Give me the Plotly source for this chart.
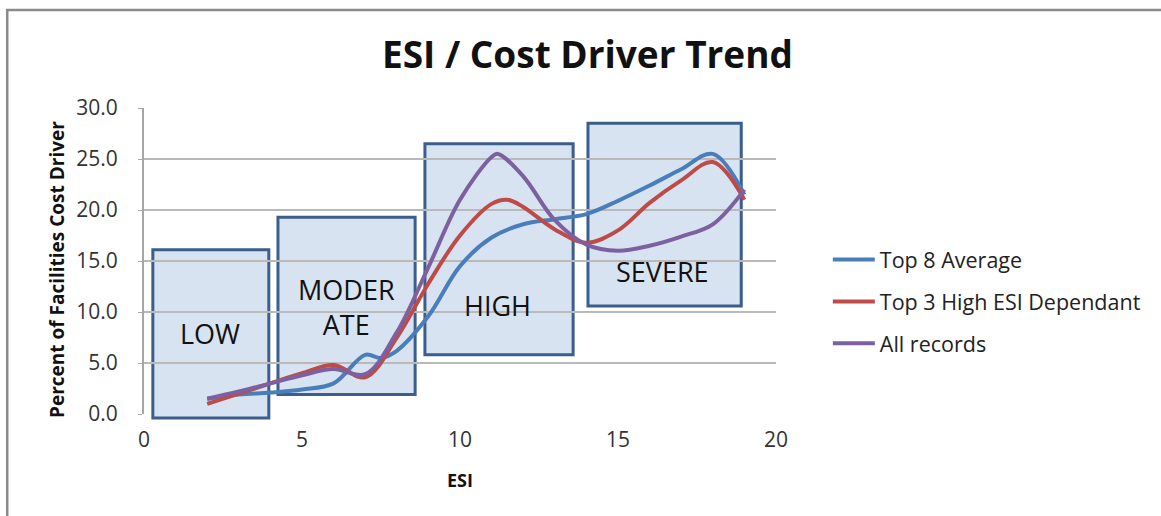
import plotly.graph_objects as go

# ESI values sampled along each smoothed curve
esi_blue = [2, 3, 4, 5, 6, 7, 7.5, 8, 9, 10, 11, 12, 13, 14, 15, 16, 17, 18, 19]
top8_avg = [1.5, 1.9, 2.1, 2.4, 3.0, 5.8, 5.5, 6.2, 9.6, 14.5, 17.3, 18.6, 19.1, 19.6, 20.9, 22.4, 24.0, 25.5, 21.5]

esi_red = [2, 3, 4, 5, 6, 7, 8, 9, 10, 11, 11.5, 12, 13, 14, 15, 16, 17, 18, 19]
top3_high = [1.0, 2.0, 3.0, 4.0, 4.8, 3.6, 7.5, 12.8, 17.5, 20.6, 21.0, 20.3, 18.1, 16.8, 18.0, 20.7, 22.9, 24.7, 21.0]

esi_purple = [2, 3, 4, 5, 6, 7, 8, 9, 10, 11, 11.2, 12, 13, 14, 15, 16, 17, 18, 19]
all_records = [1.5, 2.2, 3.0, 3.8, 4.4, 3.9, 8.0, 14.4, 21.0, 25.2, 25.5, 23.3, 19.0, 16.6, 16.0, 16.5, 17.4, 18.6, 22.0]

series_names = ["Top 8 Average", "Top 3 High ESI Dependant", "All records"]
colors = ["#4a7ebb", "#be4b48", "#7d60a0"]

Y_MAX = 30

fig = go.Figure()
for name, xs, ys, c in zip(series_names,
                           [esi_blue, esi_red, esi_purple],
                           [top8_avg, top3_high, all_records], colors):
    fig.add_trace(go.Scatter(x=xs, y=ys, name=name, mode="lines",
                             line=dict(color=c, width=4, shape="spline", smoothing=1.0),
                             legendgroup=name))

# severity boxes: (label, x0, x1, y0, y1, label x, label y)
regions = [
    ("LOW", 0.28, 3.95, -0.4, 16.1, 2.1, 7.9),
    ("MODER<br>ATE", 4.24, 8.58, 1.9, 19.3, 6.4, 10.5),
    ("HIGH", 8.89, 13.58, 5.8, 26.5, 11.2, 10.6),
    ("SEVERE", 14.05, 18.9, 10.6, 28.5, 16.4, 14.0),
]
for label, x0, x1, y0, y1, tx, ty in regions:
    # y in paper units so the LOW box can poke below the 0 line
    fig.add_shape(type="rect", x0=x0, x1=x1, y0=y0 / Y_MAX, y1=y1 / Y_MAX,
                  xref="x", yref="paper",
                  fillcolor="rgba(79,129,189,0.22)",
                  line=dict(color="#3b5e8c", width=3), layer="between")
    fig.add_annotation(x=tx, y=ty, text=label, showarrow=False,
                       font=dict(size=27, color="#111111", family="Open Sans"))

# outer chart frame (top and left edges visible)
fig.add_shape(type="rect", xref="paper", yref="paper",
              x0=-0.2164, x1=1.65, y0=-0.4, y1=1.32,
              line=dict(color="#8a8a8a", width=2.5), fillcolor="rgba(0,0,0,0)", layer="below")

# y axis title placed by hand (sits a little below plot centre in the original)
fig.add_annotation(xref="paper", yref="paper", x=(57 - 144) / 632, y=(414 - 269) / 306,
                   text="<b>Percent of Facilities Cost Driver</b>", textangle=-90,
                   showarrow=False, xanchor="center", yanchor="middle",
                   font=dict(size=19, color="#111111", family="Open Sans"))

fig.update_layout(
    width=1161, height=516,
    margin=dict(l=144, r=385, t=108, b=102),
    paper_bgcolor="white", plot_bgcolor="white",
    font=dict(family="Open Sans", color="#333333"),
    title=dict(text="<b>ESI / Cost Driver Trend</b>", x=0.506, xanchor="center",
               y=1 - 55 / 516, yanchor="middle", yref="container",
               font=dict(size=37, color="#111111", family="Open Sans")),
    legend=dict(x=1.082, y=0.572, xanchor="left", yanchor="top",
                font=dict(size=21.5, color="#222222"), tracegroupgap=11,
                itemwidth=42, bgcolor="rgba(0,0,0,0)"),
    showlegend=True,
)
fig.update_xaxes(range=[0, 20], tickvals=[0, 5, 10, 15, 20], showgrid=False,
                 zeroline=False, showline=False, ticks="",
                 tickfont=dict(size=21, color="#333333"), ticklabelstandoff=11,
                 title=dict(text="<b>ESI</b>", font=dict(size=18, color="#111111"), standoff=22))
fig.update_yaxes(range=[0, Y_MAX], tickvals=[0, 5, 10, 15, 20, 25, 30],
                 ticktext=["0.0", "5.0", "10.0", "15.0", "20.0", "25.0", "30.0"],
                 showgrid=True, gridcolor="#b9b9b9", gridwidth=2,
                 zeroline=False, showline=True, linecolor="#a6a6a6", linewidth=2,
                 ticks="outside", ticklen=4, tickcolor="#a6a6a6",
                 tickfont=dict(size=21, color="#333333"), ticklabelstandoff=16)

fig.write_html("out.html", config={"displayModeBar": False},
               post_script="document.body.style.margin='0';")
